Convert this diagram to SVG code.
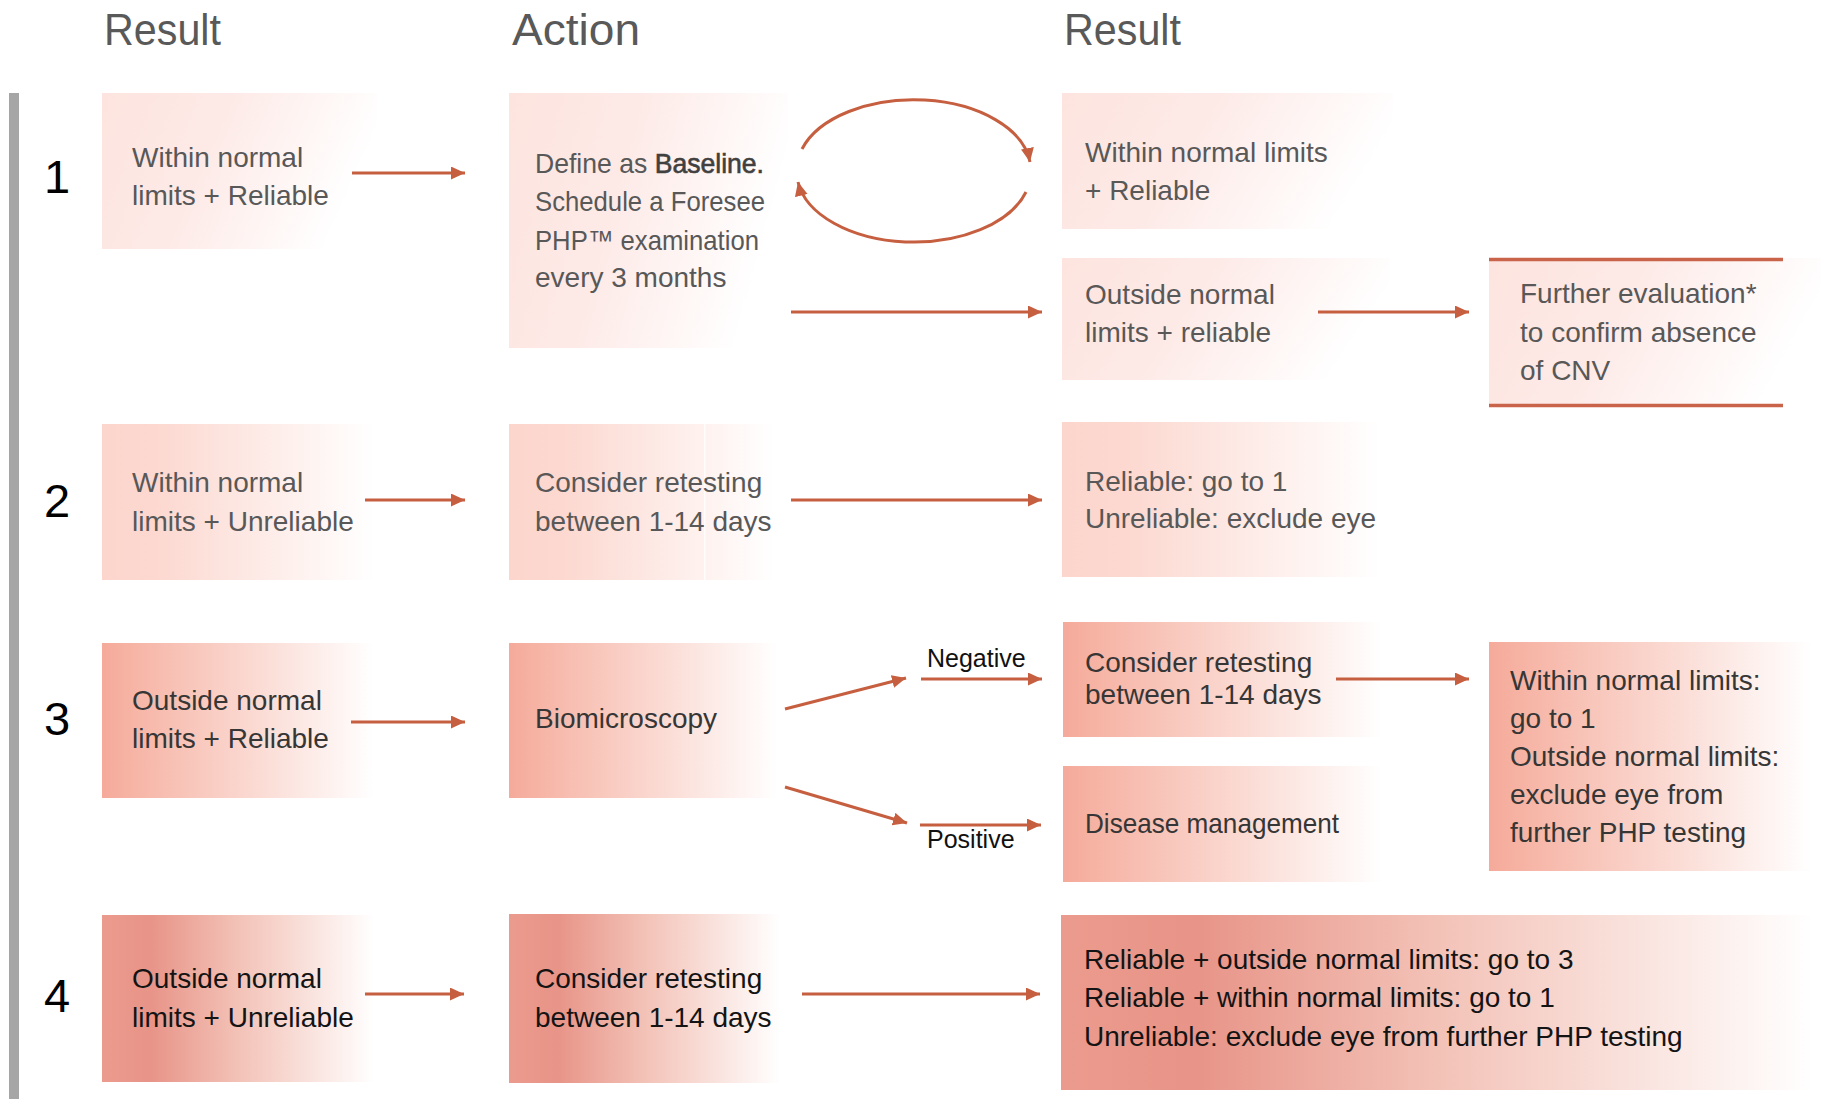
<svg xmlns="http://www.w3.org/2000/svg" width="1821" height="1099" viewBox="0 0 1821 1099">
<defs>
<linearGradient id="g1" x1="0" y1="0" x2="1" y2="0.25">
<stop offset="0" stop-color="#fde4df"/><stop offset="0.45" stop-color="#fdeae7"/><stop offset="1" stop-color="#ffffff"/>
</linearGradient>
<linearGradient id="g2" x1="0" y1="0" x2="1" y2="0">
<stop offset="0" stop-color="#fcd6cd"/><stop offset="0.2" stop-color="#fcd8d0"/><stop offset="1" stop-color="#ffffff"/>
</linearGradient>
<linearGradient id="g3" x1="0" y1="0" x2="1" y2="0">
<stop offset="0" stop-color="#f5aa9a"/><stop offset="0.1" stop-color="#f6b3a4"/><stop offset="1" stop-color="#ffffff"/>
</linearGradient>
<linearGradient id="g4" x1="0" y1="0" x2="1" y2="0">
<stop offset="0" stop-color="#eb9b8d"/><stop offset="0.18" stop-color="#e89488"/><stop offset="0.5" stop-color="#f3c2b7"/><stop offset="1" stop-color="#ffffff"/>
</linearGradient>
<marker id="ah" markerUnits="userSpaceOnUse" markerWidth="15" markerHeight="14" refX="14" refY="6.5" orient="auto">
<path d="M0,0 L14,6.5 L0,13 z" fill="#c65f40"/>
</marker>
<style>
.t{font-family:"Liberation Sans",Arial,sans-serif;font-size:28px;fill:#585858}
.d{fill:#363636}
.k{fill:#141414}
.h{font-family:"Liberation Sans",Arial,sans-serif;font-size:44px;fill:#595959}
.n{font-family:"Liberation Sans",Arial,sans-serif;font-size:47px;fill:#000;text-anchor:middle}
.lb{font-family:"Liberation Sans",Arial,sans-serif;font-size:25px;fill:#111}
.c{stroke:#c65f40;stroke-width:3;fill:none;marker-end:url(#ah)}
</style>
</defs>
<rect width="1821" height="1099" fill="#ffffff"/>
<rect x="9" y="93" width="10" height="1006" fill="#a6a6a6"/>
<g id="headers">
<text class="h" x="104" y="45" textLength="117" lengthAdjust="spacingAndGlyphs">Result</text>
<text class="h" x="512" y="45" textLength="128" lengthAdjust="spacingAndGlyphs">Action</text>
<text class="h" x="1064" y="45" textLength="117" lengthAdjust="spacingAndGlyphs">Result</text>
</g>
<g id="rownumbers">
<text class="n" x="57" y="193">1</text>
<text class="n" x="57" y="517">2</text>
<text class="n" x="57" y="735">3</text>
<text class="n" x="57" y="1012">4</text>
</g>
<g id="A1"><rect x="102" y="93" width="275" height="156" fill="url(#g1)"/>
<text class="t" x="132" y="167">Within normal</text><text class="t" x="132" y="205">limits + Reliable</text></g>
<g id="B1"><rect x="509" y="93" width="279" height="255" fill="url(#g1)"/>
<text class="t" x="535" y="173" textLength="229" lengthAdjust="spacingAndGlyphs">Define as <tspan fill="#404040" stroke="#404040" stroke-width="0.6">Baseline.</tspan></text>
<text class="t" x="535" y="211" textLength="230" lengthAdjust="spacingAndGlyphs">Schedule a Foresee</text>
<text class="t" x="535" y="250" textLength="224" lengthAdjust="spacingAndGlyphs">PHP™ examination</text>
<text class="t" x="535" y="287">every 3 months</text></g>
<g id="C1"><rect x="1062" y="93" width="331" height="136" fill="url(#g1)"/>
<text class="t" x="1085" y="162">Within normal limits</text><text class="t" x="1085" y="200">+ Reliable</text></g>
<g id="C2"><rect x="1062" y="258" width="328" height="122" fill="url(#g1)"/>
<text class="t" x="1085" y="304">Outside normal</text><text class="t" x="1085" y="342">limits + reliable</text></g>
<g id="D1"><rect x="1489" y="258" width="332" height="149" fill="url(#g1)"/>
<line x1="1489" y1="259.5" x2="1783" y2="259.5" stroke="#c9644a" stroke-width="3.5"/>
<line x1="1489" y1="405.5" x2="1783" y2="405.5" stroke="#c9644a" stroke-width="3.5"/>
<text class="t" x="1520" y="303">Further evaluation*</text><text class="t" x="1520" y="342">to confirm absence</text><text class="t" x="1520" y="380">of CNV</text></g>
<g id="A2"><rect x="102" y="424" width="272" height="156" fill="url(#g2)"/>
<text class="t" x="132" y="492">Within normal</text><text class="t" x="132" y="531">limits + Unreliable</text></g>
<g id="B2"><rect x="509" y="424" width="266" height="156" fill="url(#g2)"/>
<rect x="704" y="424" width="1.5" height="156" fill="#ffffff" opacity="0.8"/>
<text class="t" x="535" y="492">Consider retesting</text><text class="t" x="535" y="531">between 1-14 days</text></g>
<g id="C3"><rect x="1062" y="422" width="318" height="155" fill="url(#g2)"/>
<text class="t" x="1085" y="491">Reliable: go to 1</text><text class="t" x="1085" y="528">Unreliable: exclude eye</text></g>
<g id="A3"><rect x="102" y="643" width="272" height="155" fill="url(#g3)"/>
<text class="t d" x="132" y="710">Outside normal</text><text class="t d" x="132" y="748">limits + Reliable</text></g>
<g id="B3"><rect x="509" y="643" width="268" height="155" fill="url(#g3)"/>
<text class="t d" x="535" y="728">Biomicroscopy</text></g>
<g id="C4"><rect x="1063" y="622" width="319" height="115" fill="url(#g3)"/>
<text class="t d" x="1085" y="672">Consider retesting</text><text class="t d" x="1085" y="704">between 1-14 days</text></g>
<g id="C5"><rect x="1063" y="766" width="319" height="116" fill="url(#g3)"/>
<text class="t d" x="1085" y="833" textLength="254" lengthAdjust="spacingAndGlyphs">Disease management</text></g>
<g id="D2"><rect x="1489" y="642" width="323" height="229" fill="url(#g3)"/>
<text class="t d" x="1510" y="690">Within normal limits:</text>
<text class="t d" x="1510" y="728">go to 1</text>
<text class="t d" x="1510" y="766">Outside normal limits:</text>
<text class="t d" x="1510" y="804">exclude eye from</text>
<text class="t d" x="1510" y="842">further PHP testing</text></g>
<g id="A4"><rect x="102" y="915" width="272" height="167" fill="url(#g4)"/>
<text class="t k" x="132" y="988">Outside normal</text><text class="t k" x="132" y="1027">limits + Unreliable</text></g>
<g id="B4"><rect x="509" y="914" width="271" height="169" fill="url(#g4)"/>
<text class="t k" x="535" y="988">Consider retesting</text><text class="t k" x="535" y="1027">between 1-14 days</text></g>
<g id="C6"><rect x="1061" y="915" width="752" height="175" fill="url(#g4)"/>
<text class="t k" x="1084" y="969">Reliable + outside normal limits: go to 3</text>
<text class="t k" x="1084" y="1007">Reliable + within normal limits: go to 1</text>
<text class="t k" x="1084" y="1046">Unreliable: exclude eye from further PHP testing</text></g>
<g id="connectors">
<line class="c" x1="352" y1="173" x2="465" y2="173"/>
<path class="c" d="M 802 149 A 117 70 0 0 1 1030 162"/>
<path class="c" d="M 1026 192 A 117 70 0 0 1 798 182"/>
<line class="c" x1="791" y1="312" x2="1042" y2="312"/>
<line class="c" x1="1318" y1="312" x2="1469" y2="312"/>
<line class="c" x1="365" y1="500" x2="465" y2="500"/>
<line class="c" x1="791" y1="500" x2="1042" y2="500"/>
<line class="c" x1="351" y1="722" x2="465" y2="722"/>
<line class="c" x1="785" y1="709" x2="906" y2="678"/>
<line class="c" x1="921" y1="679" x2="1042" y2="679"/>
<line class="c" x1="1336" y1="679" x2="1469" y2="679"/>
<line class="c" x1="785" y1="787" x2="907" y2="823"/>
<line class="c" x1="920" y1="825" x2="1041" y2="825"/>
<line class="c" x1="365" y1="994" x2="464" y2="994"/>
<line class="c" x1="802" y1="994" x2="1040" y2="994"/>
<text class="lb" x="927" y="667">Negative</text>
<text class="lb" x="927" y="848">Positive</text>
</g>
</svg>
